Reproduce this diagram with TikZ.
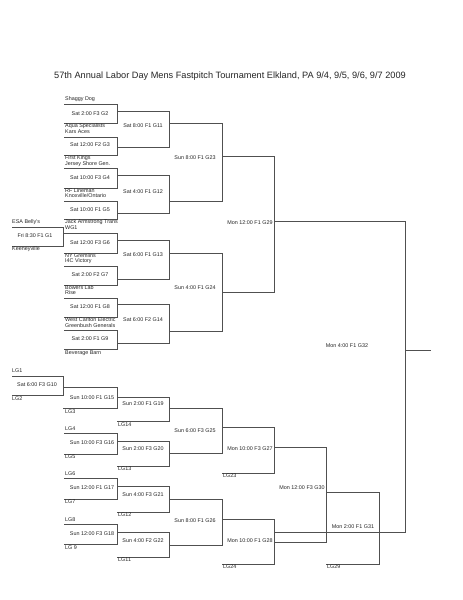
\documentclass[tikz,border=0pt]{standalone}
\usepackage{fontspec}
\setmainfont{Liberation Sans}
\definecolor{linec}{HTML}{505050}
\definecolor{txtc}{HTML}{262626}
% #1 name, #2 x left, #3 x right, #4 y top, #5 y bottom, #6 label, #7 label x, #8 label y
\newcommand\gamebr[8]{%
  \coordinate (#1tl) at (#2,#4);
  \coordinate (#1tr) at (#3,#4);
  \coordinate (#1br) at (#3,#5);
  \coordinate (#1bl) at (#2,#5);
  \draw[brline] (#1tl) -- (#1tr) -- (#1br) -- (#1bl);
  \node[glabel] (#1) at (#7,#8) {#6};
}
\begin{document}
\begin{tikzpicture}[x=1pt,y=-1pt,
  brline/.style={draw=linec, line width=0.85pt},
  glabel/.style={font=\fontsize{5.4}{6}\selectfont, text=txtc, inner sep=0pt},
  team/.style={glabel, anchor=west},
  titlestyle/.style={font=\fontsize{9.2}{11}\selectfont, text=txtc, inner sep=0pt}]
\fill[white] (0,0) rectangle (463,600);
\useasboundingbox (0,0) rectangle (463,600);

\node[titlestyle] (title) at (230,76) {57th Annual Labor Day Mens Fastpitch Tournament Elkland, PA 9/4, 9/5, 9/6, 9/7 2009};

% ---- winners bracket, first round
\gamebr{G2}{64}{117}{104}{123}{Sat 2:00 F3 G2}{90}{114}
\gamebr{G3}{64}{117}{137}{155}{Sat 12:00 F2 G3}{90}{145}
\gamebr{G4}{64}{117}{168}{188}{Sat 10:00 F3 G4}{90}{178}
\gamebr{G5}{64}{117}{201}{219}{Sat 10:00 F1 G5}{90}{210}
\gamebr{G6}{64}{117}{233}{253}{Sat 12:00 F3 G6}{90}{243}
\gamebr{G7}{64}{117}{266}{285}{Sat 2:00 F2 G7}{90}{275}
\gamebr{G8}{64}{117}{298}{317}{Sat 12:00 F1 G8}{90}{307}
\gamebr{G9}{64}{117}{330}{349}{Sat 2:00 F1 G9}{90}{339}

\node[team] (t1) at (65,99) {Shaggy Dog};
\node[team] (t2) at (65,126) {Aqua Specialists};
\node[team] (t3) at (65,132) {Kars Aces};
\node[team] (t4) at (65,158) {First Kings};
\node[team] (t5) at (65,164) {Jersey Shore Gen.};
\node[team] (t6) at (65,191) {RF Lineman};
\node[team] (t7) at (65,196) {Knoxville/Ontario};
\node[team] (t8) at (65,222) {Jack Armstrong Trans};
\node[team] (t9) at (65,228) {WG1};
\node[team] (t10) at (65,256) {NY Gremlins};
\node[team] (t11) at (65,261) {I4C Victory};
\node[team] (t12) at (65,288) {Bowers Lab};
\node[team] (t13) at (65,293) {Rise};
\node[team] (t14) at (65,320) {West Carlton Electric};
\node[team] (t15) at (65,326) {Greenbush Generals};
\node[team] (t16) at (65,353) {Beverage Barn};

% play-in game
\gamebr{G1}{12}{63}{227}{246}{Fri 8:30 F1 G1}{35}{236}
\node[team] (t17) at (12,222) {ESA Belly's};
\node[team] (t18) at (12,249) {Keeneyville};

% ---- winners bracket, later rounds
\gamebr{G11}{117}{169}{111}{147}{Sat 8:00 F1 G11}{143}{126}
\gamebr{G12}{117}{169}{175}{213}{Sat 4:00 F1 G12}{143}{192}
\gamebr{G13}{117}{169}{240}{279}{Sat 6:00 F1 G13}{143}{255}
\gamebr{G14}{117}{169}{304}{343}{Sat 6:00 F2 G14}{143}{320}
\gamebr{G23}{169}{222}{123}{201}{Sun 8:00 F1 G23}{195}{158}
\gamebr{G24}{169}{222}{253}{331}{Sun 4:00 F1 G24}{195}{288}
\gamebr{G29}{222}{274}{156}{292}{Mon 12:00 F1 G29}{250}{223}
\gamebr{G32}{274}{405}{221}{532}{Mon 4:00 F1 G32}{347}{346}
\coordinate (G32out) at (405,350);
\coordinate (champ) at (431,350);
\draw[brline] (G32out) -- (champ);

% ---- losers bracket
\gamebr{G10}{12}{63}{376}{395}{Sat 6:00 F3 G10}{37}{385}
\node[team] (l1) at (12,371) {LG1};
\node[team] (l2) at (12,399) {LG2};
\gamebr{G15}{63}{117}{387}{408}{Sun 10:00 F1 G15}{92}{398}
\node[team] (l3) at (65,412) {LG3};
\gamebr{G16}{64}{117}{433}{454}{Sun 10:00 F3 G16}{92}{443}
\node[team] (l4) at (65,429) {LG4};
\node[team] (l5) at (65,457) {LG5};
\gamebr{G17}{64}{117}{478}{499}{Sun 12:00 F1 G17}{92}{488}
\node[team] (l6) at (65,474) {LG6};
\node[team] (l7) at (65,502) {LG7};
\gamebr{G18}{64}{117}{524}{544}{Sun 12:00 F3 G18}{92}{534}
\node[team] (l8) at (65,520) {LG8};
\node[team] (l9) at (65,548) {LG 9};

\gamebr{G19}{117}{169}{397}{421}{Sun 2:00 F1 G19}{143}{404}
\node[team] (l14) at (118,425) {LG14};
\gamebr{G20}{117}{169}{441}{466}{Sun 2:00 F3 G20}{143}{449}
\node[team] (l13) at (118,469) {LG13};
\gamebr{G21}{117}{169}{486}{512}{Sun 4:00 F3 G21}{143}{495}
\node[team] (l12) at (118,515) {LG12};
\gamebr{G22}{117}{169}{532}{557}{Sun 4:00 F2 G22}{143}{541}
\node[team] (l11) at (118,560) {LG11};

\gamebr{G25}{169}{222}{408}{453}{Sun 6:00 F3 G25}{195}{431}
\gamebr{G26}{169}{222}{499}{545}{Sun 8:00 F1 G26}{195}{521}
\gamebr{G27}{222}{274}{427}{473}{Mon 10:00 F3 G27}{250}{449}
\node[team] (l23) at (223,476) {LG23};
\gamebr{G28}{222}{274}{519}{564}{Mon 10:00 F1 G28}{250}{541}
\node[team] (l24) at (223,567) {LG24};
\gamebr{G30}{274}{326}{447}{542}{Mon 12:00 F3 G30}{302}{488}
\gamebr{G31}{326}{379}{492}{564}{Mon 2:00 F1 G31}{353}{527}
\node[team] (l29) at (327,567) {LG29};
\end{tikzpicture}
\end{document}
